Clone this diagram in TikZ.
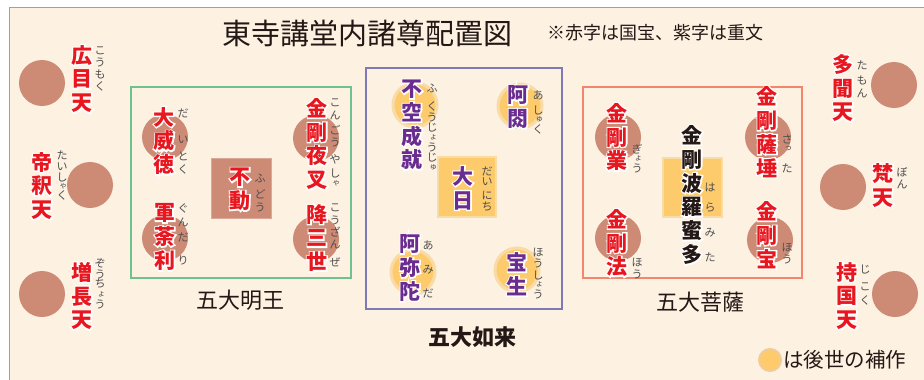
\documentclass[tikz,border=0pt]{standalone}
\usepackage{fontspec}
\newfontfamily\jp{Noto Sans CJK JP}
\newfontfamily\jpo{Noto Sans CJK JP}[FakeBold=12]
\definecolor{cream}{HTML}{FDF1E2}
\definecolor{brownc}{HTML}{CD8B76}
\definecolor{yel}{HTML}{FDCB6C}
\definecolor{yelhalo}{HTML}{F9DBA6}
\definecolor{redt}{HTML}{E8161F}
\definecolor{purt}{HTML}{6B2C8F}
\definecolor{blackt}{HTML}{231815}
\definecolor{greenb}{HTML}{6DC28E}
\definecolor{purpb}{HTML}{7F79BA}
\definecolor{orangeb}{HTML}{F4866D}
\definecolor{rubyc}{HTML}{4D4D4D}
\definecolor{frame}{HTML}{A0A0A0}
\newcommand\oc[1]{\leavevmode\rlap{\textcolor{white}{\jpo\bfseries #1}}#1}
\newcommand\rbx[3]{\foreach \c/\yy [count=\i] in {#3} {\node[rb] (#1-\i) at (#2,\yy) {\c};}}
\newcommand\sk[1]{\fontsize{8}{8}\selectfont\hspace*{2.5pt}#1}
\tikzset{
  bc/.style={circle, fill=brownc, minimum size=46pt, inner sep=0},
  yc/.style={circle, fill=yel, draw=yelhalo, line width=3pt, minimum size=44pt, inner sep=0},
  lab/.style={align=center, inner sep=0, font=\fontsize{21}{23.8}\selectfont\jp\bfseries},
  rb/.style={inner sep=0, text=rubyc, font=\fontsize{11}{11}\selectfont\jp},
  grp/.style={inner sep=0, text=blackt, font=\fontsize{22}{22}\selectfont\jp},
  grpbox/.style={line width=2.5pt},
}
\begin{document}
\begin{tikzpicture}[x=1pt,y=-1pt]
\useasboundingbox (0,0) rectangle (924,380);
\fill[white] (0,0) rectangle (924,380);
\fill[cream] (9,7) rectangle (924,380);
\draw[frame, line width=1pt] (9,380) -- (9,7) -- (924,7);

% title
\node[inner sep=0, text=blackt, font=\fontsize{29}{29}\selectfont\jp] (title) at (367,33) {東寺講堂内諸尊配置図};
\node[inner sep=0, text=blackt, font=\fontsize{18}{18}\selectfont\jp] (note) at (655,33) {※赤字は国宝、紫字は重文};

% group boxes
\draw[grpbox, greenb] (131,87) rectangle (351,278);
\draw[grpbox, purpb] (366,68) rectangle (562,309);
\draw[grpbox, orangeb] (583,87) rectangle (802,278);

% circles
\node[bc] (c1) at (42,83) {};
\node[bc] (c2) at (90,185) {};
\node[bc] (c3) at (42,294) {};
\node[bc] (c4) at (165,137) {};
\node[bc] (c5) at (165,238) {};
\node[bc] (c6) at (316,138) {};
\node[bc] (c7) at (316,239) {};
\node[yc] (c8) at (415,105) {};
\node[yc] (c9) at (520,106) {};
\node[yc] (c10) at (413,272) {};
\node[yc] (c11) at (517,270) {};
\node[bc] (c12) at (618,137) {};
\node[bc] (c13) at (618,238) {};
\node[bc] (c14) at (768,137) {};
\node[bc] (c15) at (770,240) {};
\node[bc] (c16) at (894,85) {};
\node[bc] (c17) at (843,187) {};
\node[bc] (c18) at (895,294) {};

% squares
\node[draw=brownc!75!white, line width=1.5pt, fill=brownc, minimum width=60pt, minimum height=60pt, inner sep=0] (sq1) at (241.5,188.5) {};
\node[draw=yelhalo, line width=2pt, fill=yel, minimum width=58pt, minimum height=60pt, inner sep=0] (sq2) at (467,187) {};
\node[draw=yelhalo, line width=2pt, fill=yel, minimum width=59pt, minimum height=59pt, inner sep=0] (sq3) at (692.5,187.5) {};

% main labels
\node[lab, text=redt] (l1) at (82,79) {\oc{広}\\\oc{目}\\\oc{天}};
\node[lab, text=redt] (l2) at (42,186) {\oc{帝}\\\oc{釈}\\\oc{天}};
\node[lab, text=redt] (l3) at (82,296) {\oc{増}\\\oc{長}\\\oc{天}};
\node[lab, text=redt] (l4) at (164,141) {\oc{大}\\\oc{威}\\\oc{徳}};
\node[lab, text=redt] (l5) at (165,237) {\oc{軍}\\\oc{荼}\\\oc{利}};
\node[lab, text=redt] (l6) at (240,189.5) {\oc{不}\\\oc{動}};
\node[lab, text=redt] (l7) at (317,144) {\oc{金}\\\oc{剛}\\\oc{夜}\\\oc{叉}};
\node[lab, text=redt] (l8) at (317,238) {\oc{降}\\\oc{三}\\\oc{世}};
\node[lab, text=purt] (l9) at (412,125) {\oc{不}\\\oc{空}\\\oc{成}\\\oc{就}};
\node[lab, text=purt] (l10) at (518,107) {\oc{阿}\\\oc{閦}};
\node[lab, text=purt] (l11) at (463,188) {\oc{大}\\\oc{日}};
\node[lab, text=purt] (l12) at (410,268) {\oc{阿}\\\oc{弥}\\\oc{陀}};
\node[lab, text=purt] (l13) at (517,274) {\oc{宝}\\\oc{生}};
\node[lab, text=redt] (l14) at (617,137) {\oc{金}\\\oc{剛}\\\oc{業}};
\node[lab, text=redt] (l15) at (617,243) {\oc{金}\\\oc{剛}\\\oc{法}};
\node[lab, text=blackt] (l16) at (692,195) {\oc{金}\\\oc{剛}\\\oc{波}\\\oc{羅}\\\oc{蜜}\\\oc{多}};
\node[lab, text=redt] (l17) at (767,132) {\oc{金}\\\oc{剛}\\\oc{薩}\\\oc{埵}};
\node[lab, text=redt] (l18) at (767,235) {\oc{金}\\\oc{剛}\\\oc{宝}};
\node[lab, text=redt] (l19) at (843,88) {\oc{多}\\\oc{聞}\\\oc{天}};
\node[lab, text=redt] (l20) at (883,185.5) {\oc{梵}\\\oc{天}};
\node[lab, text=redt] (l21) at (847,296) {\oc{持}\\\oc{国}\\\oc{天}};

% ruby
\rbx{r1}{100}{こ/51, う/62, も/74, く/86}
\rbx{r2}{62}{た/155, い/167, し/177, \sk{ゃ}/186, く/195}
\rbx{r3}{100}{ぞ/264, う/274, ち/284, \sk{ょ}/294, う/304}
\rbx{r4}{183}{だ/113, い/140, と/156, く/169}
\rbx{r5}{183}{ぐ/208, ん/222, だ/237, り/260}
\rbx{r6}{260}{ふ/178, ど/194, う/207}
\rbx{r7}{335}{こ/103, ん/115, ご/130, う/142, や/159, し/173, \sk{ゃ}/183}
\rbx{r8}{335}{こ/208, う/220, ざ/232, ん/244, ぜ/262}
\rbx{r9}{432}{ふ/88, く/106, う/117, じ/128, \sk{ょ}/137, う/147, じ/158, \sk{ゅ}/167}
\rbx{r10}{538}{あ/95, し/110, \sk{ゅ}/119, く/129}
\rbx{r11}{487}{だ/171, い/182, に/195, ち/207}
\rbx{r12}{428}{あ/245, み/270, だ/293}
\rbx{r13}{538}{ほ/252, う/263, し/275, \sk{ょ}/284, う/294}
\rbx{r14}{637}{ぎ/149, \sk{ょ}/158, う/168}
\rbx{r15}{637}{ほ/262, う/274}
\rbx{r16}{710}{は/187, ら/208, み/233, た/257}
\rbx{r17}{787}{さ/139, \sk{っ}/149, た/168}
\rbx{r18}{787}{ほ/247, う/259}
\rbx{r19}{862}{た/65, も/80, ん/93}
\rbx{r20}{902}{ぼ/172, ん/184}
\rbx{r21}{865}{じ/270, こ/287, く/300}

% group labels
\node[grp] (g1) at (240,300) {五大明王};
\node[grp, font=\fontsize{22}{22}\selectfont\jp\bfseries] (g2) at (472,337) {五大如来};
\node[grp] (g3) at (700,302) {五大菩薩};

% legend
\node[circle, fill=yel, draw=yelhalo!80!brownc, line width=2pt, minimum size=22pt, inner sep=0] (leg) at (770,360) {};
\node[grp, anchor=west, font=\fontsize{20.5}{20.5}\selectfont\jp] (legt) at (783,360) {は後世の補作};
\end{tikzpicture}
\end{document}
